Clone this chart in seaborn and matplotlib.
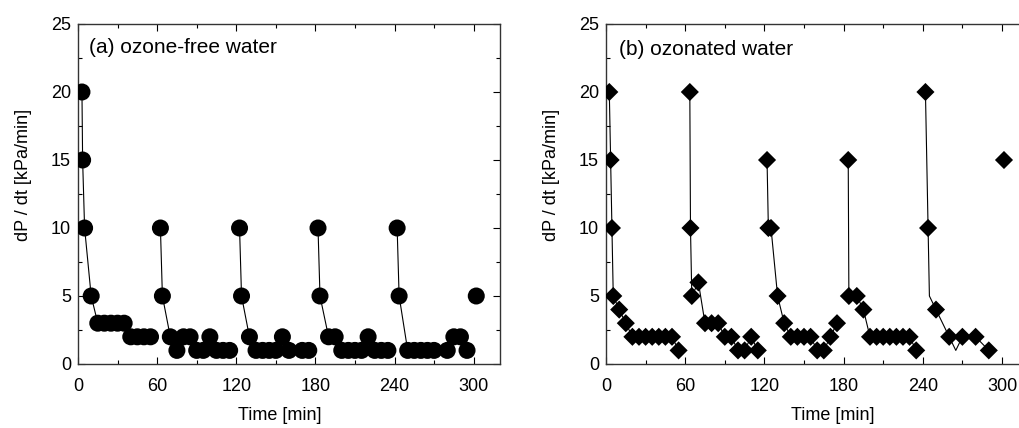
import matplotlib
matplotlib.use("Agg")
import matplotlib.pyplot as plt
import seaborn as sns
import pandas as pd
from matplotlib.ticker import MultipleLocator

# (a) ozone-free water: time [min], dP/dt [kPa/min], filtration cycle
free_time = [3, 3.5, 5, 10, 15, 20, 25, 30, 35, 40, 45, 50, 55,
             62.5, 64, 70, 75, 80, 85, 90, 95, 100, 105, 110, 115,
             122.5, 124, 130, 135, 140, 145, 150, 155, 160, 170, 175,
             182, 183.5, 190, 195, 200, 205, 210, 215, 220, 225, 230, 235,
             242, 243.5, 250, 255, 260, 265, 270, 280, 285, 290, 295,
             302]
free_rate = [20, 15, 10, 5, 3, 3, 3, 3, 3, 2, 2, 2, 2,
             10, 5, 2, 1, 2, 2, 1, 1, 2, 1, 1, 1,
             10, 5, 2, 1, 1, 1, 1, 2, 1, 1, 1,
             10, 5, 2, 2, 1, 1, 1, 1, 2, 1, 1, 1,
             10, 5, 1, 1, 1, 1, 1, 1, 2, 2, 1,
             5]
free_cycle = [1] * 13 + [2] * 12 + [3] * 11 + [4] * 12 + [5] * 11 + [6]

# (b) ozonated water
ozo_time = [2.5, 3.5, 4.5, 5.5, 10, 15, 20, 25, 30, 35, 40, 45, 50, 55,
            63.5, 64, 65, 70, 75, 80, 85, 90, 95, 100, 105, 110, 115,
            122, 123, 125, 130, 135, 140, 145, 150, 155, 160, 165, 170, 175,
            183.5, 184, 190, 195, 200, 205, 210, 215, 220, 225, 230, 235,
            242, 244, 245, 250, 260, 265, 270, 280, 290,
            301.5]
ozo_rate = [20, 15, 10, 5, 4, 3, 2, 2, 2, 2, 2, 2, 2, 1,
            20, 10, 5, 6, 3, 3, 3, 2, 2, 1, 1, 2, 1,
            15, 10, 10, 5, 3, 2, 2, 2, 2, 1, 1, 2, 3,
            15, 5, 5, 4, 2, 2, 2, 2, 2, 2, 2, 1,
            20, 10, 5, 4, 2, 1, 2, 2, 1,
            15]
ozo_cycle = [1] * 14 + [2] * 13 + [3] * 13 + [4] * 12 + [5] * 9 + [6]
# two bends of the line have no marker in the original
ozo_marked = [True] * 54 + [False] + [True] * 2 + [False] + [True] * 4

df_free = pd.DataFrame({"time": free_time, "rate": free_rate, "cycle": free_cycle})
df_free["marked"] = True
df_ozo = pd.DataFrame({"time": ozo_time, "rate": ozo_rate, "cycle": ozo_cycle,
                       "marked": ozo_marked})

sns.set_style("ticks")
plt.rcParams["font.family"] = ["Liberation Sans", "DejaVu Sans"]
plt.rcParams["text.color"] = "black"
plt.rcParams["axes.labelcolor"] = "black"
plt.rcParams["xtick.color"] = "black"
plt.rcParams["ytick.color"] = "black"

W, H = 1019, 428
fig = plt.figure(figsize=(W / 100, H / 100), dpi=100)
ax1 = fig.add_axes([78 / W, 64 / H, 422 / W, 340 / H])
ax2 = fig.add_axes([606 / W, 64 / H, 422.4 / W, 340 / H])

panels = [
    (ax1, df_free, "o", 150, "(a) ozone-free water", 0.025, 0.958, 0.479),
    (ax2, df_ozo, "D", 85, "(b) ozonated water", 0.030, 0.952, 0.537),
]

for ax, df, mk, size, title, tx, ty, lx in panels:
    sns.lineplot(data=df, x="time", y="rate", units="cycle", estimator=None,
                 sort=False, color="black", linewidth=0.8, ax=ax)
    sns.scatterplot(data=df[df["marked"]], x="time", y="rate", marker=mk,
                    s=size, color="black", edgecolor="none", ax=ax, zorder=3)
    ax.set_xlim(0, 320)
    ax.set_ylim(0, 25)
    ax.xaxis.set_major_locator(MultipleLocator(60))
    ax.xaxis.set_minor_locator(MultipleLocator(30))
    ax.yaxis.set_major_locator(MultipleLocator(5))
    ax.yaxis.set_minor_locator(MultipleLocator(2.5))
    ax.tick_params(which="both", direction="in", top=True, right=True,
                   labelsize=13, width=0.8)
    ax.tick_params(which="major", length=5)
    ax.tick_params(which="minor", length=3)
    ax.tick_params(axis="x", pad=10)
    ax.tick_params(axis="y", pad=5)
    for sp in ax.spines.values():
        sp.set_color("#333333")
        sp.set_linewidth(1.0)
    ax.set_xlabel("Time [min]", fontsize=13)
    ax.set_ylabel("dP / dt [kPa/min]", fontsize=13)
    ax.xaxis.set_label_coords(lx, -0.125)
    ax.yaxis.set_label_coords(-0.109, 0.556)
    ax.text(tx, ty, title, transform=ax.transAxes, ha="left", va="top",
            fontsize=15)

fig.savefig("out.png", dpi=100)
